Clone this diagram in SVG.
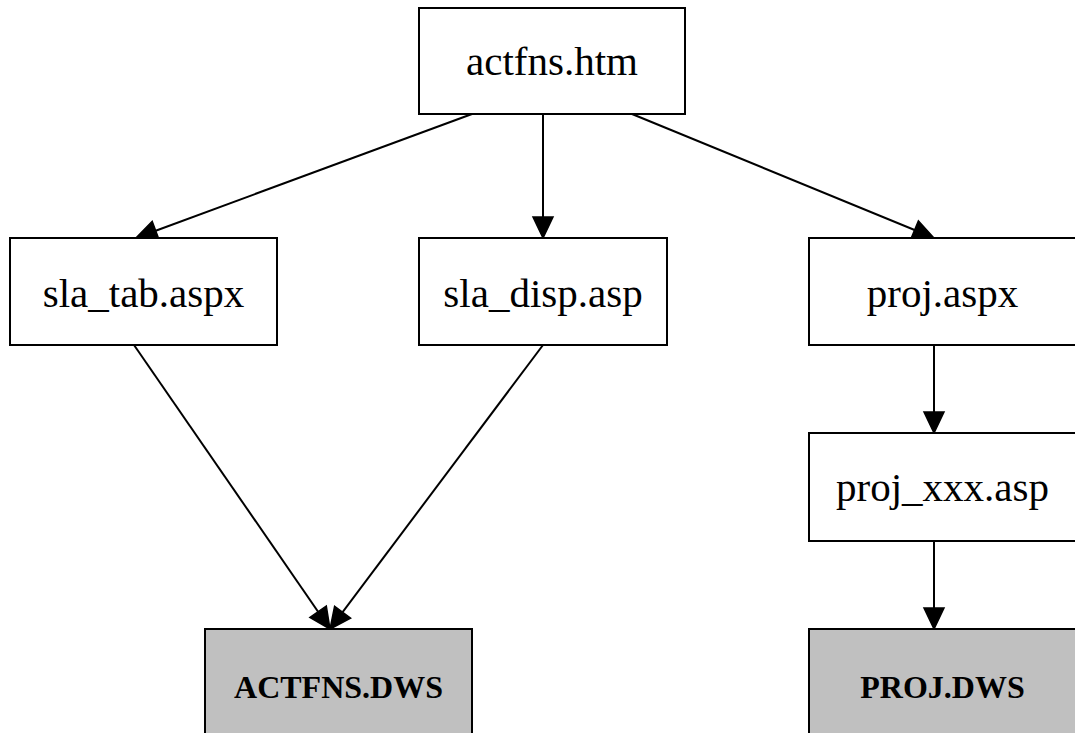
<svg xmlns="http://www.w3.org/2000/svg" width="1075" height="733" viewBox="0 0 1075 733">
<style>
.box{fill:#ffffff;stroke:#000;stroke-width:2}
.db{fill:#c0c0c0;stroke:#000;stroke-width:2}
.lbl{font-family:"Liberation Serif","Times New Roman",serif;font-size:41px;fill:#000;text-anchor:middle}
.blbl{font-family:"Liberation Serif","Times New Roman",serif;font-size:32px;font-weight:bold;fill:#000;text-anchor:middle}
.edge line{stroke:#000;stroke-width:2}
.edge polygon{fill:#000;stroke:#000;stroke-width:1.5}
</style>
<rect width="1075" height="733" fill="#fff"/>
<g id="connectors" class="edge">
<line x1="472" y1="114" x2="155.7" y2="230.7"/>
<polygon points="136,238 159.2,240.1 152.2,221.3"/>
<line x1="543" y1="114" x2="543" y2="217"/>
<polygon points="543,238 533,217 553,217"/>
<line x1="632" y1="114" x2="914.6" y2="230"/>
<polygon points="934,238 910.8,239.3 918.4,220.8"/>
<line x1="934" y1="345" x2="934" y2="412"/>
<polygon points="934,433 924,412 944,412"/>
<line x1="934" y1="541" x2="934" y2="608"/>
<polygon points="934,629 924,608 944,608"/>
<line x1="134" y1="345" x2="318.1" y2="611.7"/>
<polygon points="330,629 309.9,617.4 326.3,606"/>
<line x1="543" y1="345" x2="342.6" y2="612.2"/>
<polygon points="330,629 350.6,618.2 334.6,606.2"/>
</g>
<g id="actfns_htm">
<rect class="box" x="419" y="8" width="266" height="106"/>
<text class="lbl" x="552" y="75">actfns.htm</text>
</g>
<g id="sla_tab_aspx">
<rect class="box" x="10" y="238" width="267" height="107"/>
<text class="lbl" x="143.5" y="307">sla_tab.aspx</text>
</g>
<g id="sla_disp_asp">
<rect class="box" x="419" y="238" width="248" height="107"/>
<text class="lbl" x="543" y="307">sla_disp.asp</text>
</g>
<g id="proj_aspx">
<rect class="box" x="809" y="238" width="267" height="107"/>
<text class="lbl" x="942.5" y="307">proj.aspx</text>
</g>
<g id="proj_xxx_asp">
<rect class="box" x="809" y="433" width="267" height="108"/>
<text class="lbl" x="942.5" y="501">proj_xxx.asp</text>
</g>
<g id="ACTFNS_DWS">
<rect class="db" x="205" y="629" width="267" height="108"/>
<text class="blbl" x="338.5" y="698">ACTFNS.DWS</text>
</g>
<g id="PROJ_DWS">
<rect class="db" x="809" y="629" width="267" height="108"/>
<text class="blbl" x="942.5" y="698">PROJ.DWS</text>
</g>
</svg>
